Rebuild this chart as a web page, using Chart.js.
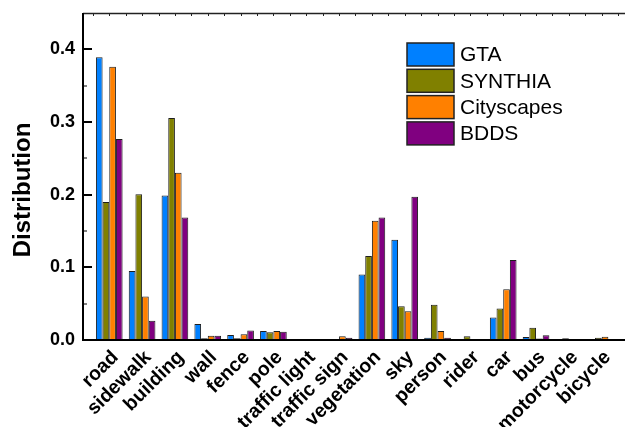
<!DOCTYPE html>
<html>
<head>
<meta charset="utf-8">
<script src="https://cdn.jsdelivr.net/npm/chart.js@4/dist/chart.umd.min.js"></script>
<style>
  html, body { margin: 0; padding: 0; background: #fff; }
  #wrap { width: 625px; height: 427px; }
</style>
</head>
<body>
<div id="wrap"><canvas id="c" width="625" height="427"></canvas></div>
<script>
// Class labels along the x axis
const categories = ['road', 'sidewalk', 'building', 'wall', 'fence', 'pole',
  'traffic light', 'traffic sign', 'vegetation', 'sky', 'person', 'rider',
  'car', 'bus', 'motorcycle', 'bicycle'];

// Per-class pixel distribution of each dataset
const gta        = [0.389, 0.095, 0.199, 0.022, 0.007, 0.0124, 0.0005, 0.0003, 0.090, 0.138, 0.003, 0.0003, 0.031, 0.004, 0.0003, 0.0003];
const synthia    = [0.190, 0.2005, 0.3055, 0.0023, 0.0025, 0.0106, 0.0003, 0.0005, 0.1155, 0.0465, 0.0485, 0.005, 0.0435, 0.017, 0.0023, 0.003];
const cityscapes = [0.376, 0.060, 0.230, 0.006, 0.0078, 0.0124, 0.001, 0.005, 0.164, 0.0395, 0.0124, 0.001, 0.070, 0.002, 0.001, 0.0046];
const bdds       = [0.2765, 0.0265, 0.1685, 0.006, 0.013, 0.0115, 0.001, 0.003, 0.1685, 0.197, 0.003, 0.0003, 0.110, 0.0065, 0.0003, 0.0005];

// Y axis tick values
const yTicks = [0, 0.1, 0.2, 0.3, 0.4];

const seriesNames  = ['GTA', 'SYNTHIA', 'Cityscapes', 'BDDS'];
const seriesValues = [gta, synthia, cityscapes, bdds];
const seriesColors = ['#0080FF', '#808000', '#FF8000', '#800080'];

const FONT = '"Liberation Sans", Arial, Helvetica, sans-serif';

// Frame, inward ticks, axis title and legend
const framePlugin = {
  id: 'frame',
  afterDraw(chart) {
    const { ctx, chartArea: a, scales } = chart;
    const xs = scales.x, ys = scales.y;
    ctx.save();
    ctx.lineCap = 'butt';

    // top border
    ctx.lineWidth = 1.5;
    ctx.strokeStyle = '#222';
    ctx.beginPath();
    ctx.moveTo(a.left, a.top + 0.5);
    ctx.lineTo(a.right, a.top + 0.5);
    ctx.stroke();
    // top ticks every half category
    ctx.lineWidth = 1;
    for (let v = 0.5; v <= xs.max; v += 0.5) {
      const px = Math.round(xs.getPixelForValue(v)) + 0.5;
      ctx.beginPath();
      ctx.moveTo(px, a.top);
      ctx.lineTo(px, a.top + 3);
      ctx.stroke();
    }

    ctx.strokeStyle = '#000';
    // left axis
    ctx.lineWidth = 2;
    ctx.beginPath();
    ctx.moveTo(a.left, a.top);
    ctx.lineTo(a.left, a.bottom + 1);
    ctx.stroke();
    // bottom axis
    ctx.beginPath();
    ctx.moveTo(a.left - 1, a.bottom);
    ctx.lineTo(a.right, a.bottom);
    ctx.stroke();

    // left ticks: major at 0.1, minor at 0.05
    for (let k = 1; k <= 8; k++) {
      const v = k * 0.05;
      const py = Math.round(ys.getPixelForValue(v));
      const major = k % 2 === 0;
      ctx.lineWidth = major ? 2 : 1;
      ctx.beginPath();
      ctx.moveTo(a.left, py);
      ctx.lineTo(a.left + (major ? 9 : 4), py);
      ctx.stroke();
    }

    // y axis title
    ctx.fillStyle = '#000';
    ctx.font = 'bold 24px ' + FONT;
    ctx.textAlign = 'center';
    ctx.textBaseline = 'middle';
    ctx.translate(23, 190);
    ctx.rotate(-Math.PI / 2);
    ctx.fillText('Distribution', 0, 0);
    ctx.setTransform(1, 0, 0, 1, 0, 0);

    // legend
    const lx = 407, ly = 43, bw = 47, bh = 23, step = 26.3;
    ctx.font = '21px ' + FONT;
    ctx.textAlign = 'left';
    chart.data.datasets.forEach((ds, i) => {
      const y = ly + i * step;
      ctx.fillStyle = ds.backgroundColor;
      ctx.fillRect(lx, y, bw, bh);
      ctx.lineWidth = 1.5;
      ctx.strokeStyle = '#222';
      ctx.strokeRect(lx, y, bw, bh);
      ctx.fillStyle = '#000';
      ctx.fillText(ds.label, 460, y + bh / 2 + 1);
    });
    ctx.restore();
  }
};

const datasets = seriesNames.map((name, s) => ({
  label: name,
  data: seriesValues[s].map((v, i) => ({ x: i + 1, y: v })),
  backgroundColor: seriesColors[s],
  borderColor: '#1e1e1e',
  borderWidth: 1,
  categoryPercentage: 0.8125,
  barPercentage: 1
}));

new Chart(document.getElementById('c'), {
  type: 'bar',
  data: { datasets },
  plugins: [framePlugin],
  options: {
    responsive: false,
    animation: false,
    devicePixelRatio: 1,
    layout: { padding: { top: 13, right: 0, left: 0, bottom: 0 } },
    plugins: { legend: { display: false }, tooltip: { enabled: false } },
    scales: {
      x: {
        type: 'linear',
        min: 0.2,
        max: 16.71,
        offset: false,
        grid: { display: false, drawTicks: false },
        border: { display: false },
        afterBuildTicks: (s) => { s.ticks = categories.map((_, i) => ({ value: i + 1 })); },
        afterFit: (s) => { s.height = 87; s.paddingLeft = 0; s.paddingRight = 0; },
        ticks: {
          autoSkip: false,
          minRotation: 45,
          maxRotation: 45,
          padding: 6,
          labelOffset: 6,
          color: '#000',
          font: { family: FONT, size: 19.5, weight: 'bold' },
          callback: (v) => categories[v - 1]
        }
      },
      y: {
        type: 'linear',
        min: 0,
        max: 0.45,
        grid: { display: false, drawTicks: false },
        border: { display: false },
        afterBuildTicks: (s) => { s.ticks = yTicks.map(v => ({ value: v })); },
        afterFit: (s) => { s.width = 83; s.paddingTop = 0; s.paddingBottom = 0; },
        ticks: {
          padding: 8,
          color: '#000',
          font: { family: FONT, size: 18, weight: 'bold' },
          callback: (v) => Number(v).toFixed(1)
        }
      }
    }
  }
});
</script>
</body>
</html>
